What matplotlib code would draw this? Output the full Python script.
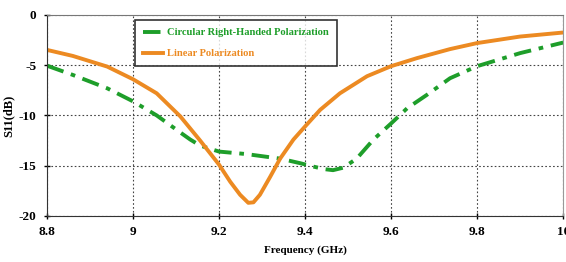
import numpy as np
import matplotlib.pyplot as plt

freq_lin = [8.8, 8.86, 8.94, 9.0, 9.055, 9.11, 9.133, 9.156, 9.2, 9.226, 9.249, 9.268,
            9.28, 9.295, 9.319, 9.342, 9.373, 9.4, 9.435, 9.481, 9.544, 9.6, 9.66,
            9.737, 9.8, 9.9, 10.0]
s11_lin = [-3.48, -4.08, -5.14, -6.4, -7.8, -10.1, -11.3, -12.5, -14.9, -16.6, -17.9, -18.7,
           -18.65, -17.9, -16.1, -14.3, -12.4, -11.1, -9.45, -7.8, -6.1, -5.1, -4.3,
           -3.4, -2.8, -2.15, -1.75]

freq_circ = [8.8, 8.86, 8.94, 9.0, 9.055, 9.11, 9.133, 9.156, 9.2, 9.264, 9.342, 9.388,
             9.42, 9.445, 9.465, 9.489, 9.52, 9.559, 9.6, 9.637, 9.683, 9.737, 9.8, 9.9, 10.0]
s11_circ = [-5.05, -5.97, -7.3, -8.6, -10.0, -11.7, -12.4, -13.0, -13.6, -13.85, -14.3, -14.75,
            -15.1, -15.35, -15.45, -15.2, -14.3, -12.4, -10.8, -9.3, -7.96, -6.3, -5.1, -3.8, -2.75]

xticks = [8.8, 9.0, 9.2, 9.4, 9.6, 9.8, 10.0]
xtick_labels = ["8.8", "9", "9.2", "9.4", "9.6", "9.8", "10"]
yticks = [0, -5, -10, -15, -20]

green = "#1e9e2a"
orange = "#ec8a22"

plt.rcParams["font.family"] = ["Liberation Serif", "DejaVu Serif"]
plt.rcParams["font.weight"] = "bold"
plt.rcParams["axes.unicode_minus"] = False

fig = plt.figure(figsize=(5.66, 2.62), dpi=100)
ax = fig.add_axes([0.083, 0.176, 0.912, 0.767])

ax.plot(freq_circ, s11_circ, color=green, lw=2.8, dashes=(4.5, 2, 1.2, 2),
        label="Circular Right-Handed Polarization")
ax.plot(freq_lin, s11_lin, color=orange, lw=2.8,
        label="Linear Polarization")

ax.set_xlim(8.8, 10.0)
ax.set_ylim(-20, 0)
ax.set_xticks(xticks)
ax.set_xticklabels(xtick_labels)
ax.set_yticks(yticks)
ax.grid(True, color="#444444", ls=(0, (1.5, 2)), lw=0.8)
ax.tick_params(direction="inout", length=5, width=1, labelsize=9.5, pad=5)
for t in ax.get_xticklabels() + ax.get_yticklabels():
    t.set_fontweight("bold")

ax.spines["left"].set_color("#333333")
ax.spines["bottom"].set_color("#333333")
ax.spines["top"].set_color("#777777")
ax.spines["right"].set_color("#999999")

ax.set_xlabel("Frequency (GHz)", fontsize=8, fontweight="bold", labelpad=5)
ax.set_ylabel("S11(dB)", fontsize=9, fontweight="bold")
ax.yaxis.set_label_coords(-0.062, 0.5)

leg = ax.legend(loc="upper left", bbox_to_anchor=(0.171, 0.975),
                frameon=True, fancybox=False, edgecolor="black",
                handlelength=1.9, handletextpad=0.35, borderpad=0.75,
                labelspacing=1.1, borderaxespad=0,
                prop={"weight": "bold", "size": 7.6})
leg.get_frame().set_linewidth(1.2)
for txt, c in zip(leg.get_texts(), [green, orange]):
    txt.set_color(c)

fig.savefig("out.png", dpi=100)
